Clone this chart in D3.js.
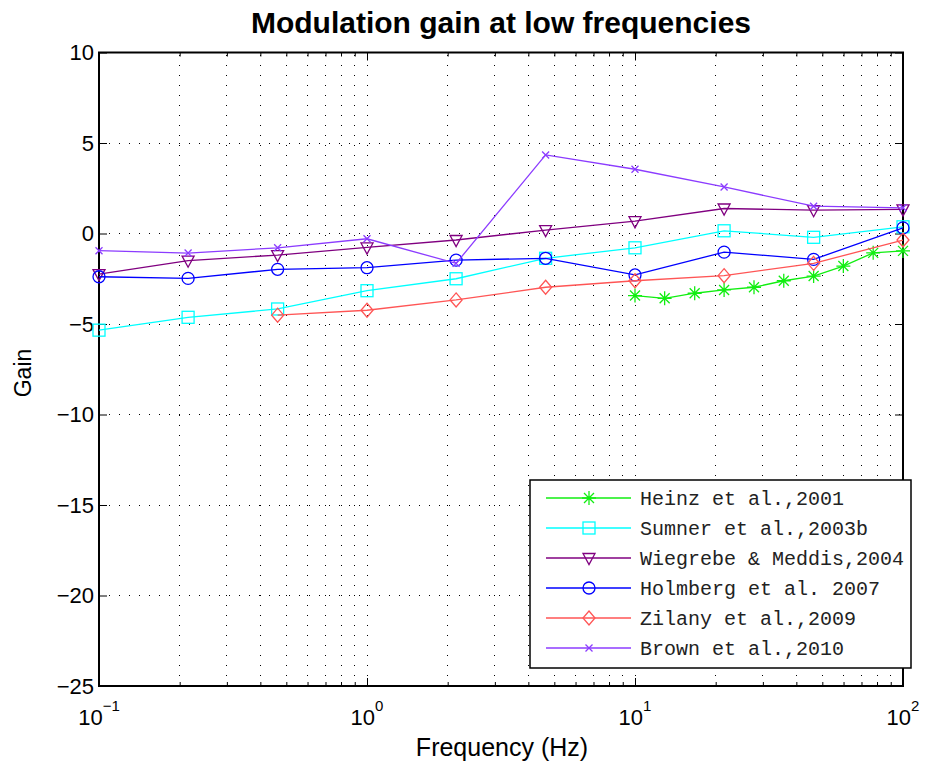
<!DOCTYPE html>
<html>
<head>
<meta charset="utf-8">
<script src="https://cdn.jsdelivr.net/npm/d3@7/dist/d3.min.js"></script>
<style>
  body { margin: 0; background: #fff; }
  svg { display: block; }
</style>
</head>
<body>
<script>
// ---------------- data ----------------
const freqs        = [0.1, 0.215, 0.464, 1, 2.15, 4.64, 10, 21.5, 46.4, 100];
const heinzFreq    = [10, 12.9, 16.7, 21.5, 27.8, 35.9, 46.4, 59.9, 77.4, 100];
const zilanyFreq   = [0.464, 1, 2.15, 4.64, 10, 21.5, 46.4, 100];

const heinzGain    = [-3.43, -3.58, -3.30, -3.12, -2.97, -2.61, -2.35, -1.80, -1.07, -0.96];
const sumnerGain   = [-5.34, -4.63, -4.17, -3.16, -2.50, -1.37, -0.79, 0.15, -0.21, 0.37];
const wiegrebeGain = [-2.24, -1.50, -1.19, -0.77, -0.36, 0.19, 0.68, 1.38, 1.29, 1.33];
const holmbergGain = [-2.39, -2.48, -1.98, -1.89, -1.47, -1.37, -2.29, -1.03, -1.43, 0.31];
const zilanyGain   = [-4.51, -4.24, -3.67, -2.97, -2.61, -2.33, -1.65, -0.36];
const brownGain    = [-0.95, -1.08, -0.79, -0.29, -1.65, 4.34, 3.55, 2.57, 1.51, 1.42];

const seriesNames  = ["Heinz et al.,2001", "Sumner et al.,2003b", "Wiegrebe & Meddis,2004",
                      "Holmberg et al. 2007", "Zilany et al.,2009", "Brown et al.,2010"];
const yTicks       = [-25, -20, -15, -10, -5, 0, 5, 10];
const xMajorTicks  = [0.1, 1, 10, 100];
const xTickExp     = ["\u22121", "0", "1", "2"];

const series = [
  { name: seriesNames[0], x: heinzFreq,  y: heinzGain,    color: "#11ee11", marker: "asterisk" },
  { name: seriesNames[1], x: freqs,      y: sumnerGain,   color: "#00ffff", marker: "square" },
  { name: seriesNames[2], x: freqs,      y: wiegrebeGain, color: "#800080", marker: "tridown" },
  { name: seriesNames[3], x: freqs,      y: holmbergGain, color: "#0000ff", marker: "circle" },
  { name: seriesNames[4], x: zilanyFreq, y: zilanyGain,   color: "#ff5555", marker: "diamond" },
  { name: seriesNames[5], x: freqs,      y: brownGain,    color: "#8c3cff", marker: "cross" }
];

// ---------------- layout ----------------
const W = 927, H = 768;
const L = 99, R = 903, T = 52.5, B = 686;
const SANS = "'Liberation Sans', Arial, sans-serif";
const MONO = "'Liberation Mono', 'Courier New', monospace";

const svg = d3.select("body").append("svg").attr("width", W).attr("height", H)
  .style("font-family", SANS);

const x = d3.scaleLog().domain([0.1, 100]).range([L, R]);
const y = d3.scaleLinear().domain([-25, 10]).range([B, T]);

// minor tick values
const xMinor = [];
[0.1, 1, 10].forEach(d => { for (let k = 2; k <= 9; k++) xMinor.push(d * k); });

// ---------------- grid ----------------
const grid = svg.append("g").attr("stroke", "#000").attr("stroke-width", 1)
  .attr("stroke-dasharray", "1,9").attr("fill", "none");
xMinor.concat(xMajorTicks.slice(1, 3)).forEach(v => {
  grid.append("line").attr("x1", x(v)).attr("x2", x(v)).attr("y1", B).attr("y2", T)
    .attr("shape-rendering", "crispEdges");
});
yTicks.slice(1, -1).forEach(v => {
  grid.append("line").attr("x1", L).attr("x2", R).attr("y1", y(v)).attr("y2", y(v))
    .attr("shape-rendering", "crispEdges");
});

// ---------------- axes (ticks inward) ----------------
function styleAxis(g) {
  g.select(".domain").remove();
  g.selectAll("line").attr("stroke", "#000").attr("stroke-width", 1);
  g.selectAll("text").remove();
}
svg.append("g").attr("transform", `translate(0,${B})`)
  .call(d3.axisBottom(x).tickValues(xMajorTicks).tickSize(-8)).call(styleAxis);
svg.append("g").attr("transform", `translate(0,${B})`)
  .call(d3.axisBottom(x).tickValues(xMinor).tickSize(-4)).call(styleAxis);
svg.append("g").attr("transform", `translate(0,${T})`)
  .call(d3.axisTop(x).tickValues(xMajorTicks).tickSize(-8)).call(styleAxis);
svg.append("g").attr("transform", `translate(0,${T})`)
  .call(d3.axisTop(x).tickValues(xMinor).tickSize(-4)).call(styleAxis);
svg.append("g").attr("transform", `translate(${L},0)`)
  .call(d3.axisLeft(y).tickValues(yTicks).tickSize(-8)).call(styleAxis);
svg.append("g").attr("transform", `translate(${R},0)`)
  .call(d3.axisRight(y).tickValues(yTicks).tickSize(-8)).call(styleAxis);

// frame
svg.append("rect").attr("x", L).attr("y", T).attr("width", R - L).attr("height", B - T)
  .attr("fill", "none").attr("stroke", "#000").attr("stroke-width", 2);

// tick labels
svg.append("g").selectAll("text").data(yTicks).join("text")
  .attr("x", L - 5).attr("y", d => y(d)).attr("dy", "0.36em")
  .attr("text-anchor", "end").attr("font-size", 22)
  .text(d => d < 0 ? "\u2212" + Math.abs(d) : d);

const xl = svg.append("g").selectAll("text").data(xMajorTicks).join("text")
  .attr("x", d => x(d)).attr("y", 725).attr("text-anchor", "middle").attr("font-size", 22);
xl.append("tspan").text("10");
xl.append("tspan").attr("dy", -14).attr("font-size", 15).text((d, i) => xTickExp[i]);

// titles
svg.append("text").attr("x", 501).attr("y", 33).attr("text-anchor", "middle")
  .attr("font-size", 30).attr("font-weight", "bold").text("Modulation gain at low frequencies");
svg.append("text").attr("x", 502).attr("y", 756).attr("text-anchor", "middle")
  .attr("font-size", 25).text("Frequency (Hz)");
svg.append("text").attr("transform", "translate(31,373) rotate(-90)").attr("text-anchor", "middle")
  .attr("font-size", 23).text("Gain");

// ---------------- markers ----------------
function drawMarker(g, type, cx, cy, color) {
  const s = 6;
  const m = g.append("g").attr("transform", `translate(${cx},${cy})`)
    .attr("stroke", color).attr("fill", "none").attr("stroke-width", 1.3);
  if (type === "circle") m.append("circle").attr("r", s);
  else if (type === "square") m.append("rect").attr("x", -s).attr("y", -s).attr("width", 2 * s).attr("height", 2 * s);
  else if (type === "diamond") m.append("path").attr("d", `M0,${-s - 1}L${s},0L0,${s + 1}L${-s},0Z`);
  else if (type === "tridown") m.append("path").attr("d", `M${-s},${-s * 0.75}L${s},${-s * 0.75}L0,${s * 1.1}Z`);
  else if (type === "cross") {
    const c = 3.5;
    m.append("path").attr("d", `M${-c},${-c}L${c},${c}M${-c},${c}L${c},${-c}`);
  } else if (type === "asterisk") {
    const a = 7, b = 5;
    m.append("path").attr("d", `M0,${-a}L0,${a}M${-a},0L${a},0M${-b},${-b}L${b},${b}M${-b},${b}L${b},${-b}`);
  }
}

const line = d3.line().x(d => x(d[0])).y(d => y(d[1]));
const plot = svg.append("g");
series.forEach(s => {
  const pts = s.x.map((v, i) => [v, s.y[i]]);
  plot.append("path").datum(pts).attr("d", line).attr("fill", "none")
    .attr("stroke", s.color).attr("stroke-width", 1.3);
  pts.forEach(p => drawMarker(plot, s.marker, x(p[0]), y(p[1]), s.color));
});

// ---------------- legend ----------------
const lg = svg.append("g");
lg.append("rect").attr("x", 530).attr("y", 480).attr("width", 381).attr("height", 188)
  .attr("fill", "#fff").attr("stroke", "#000").attr("stroke-width", 1.5);
series.forEach((s, i) => {
  const yy = 498 + i * 30;
  lg.append("line").attr("x1", 546).attr("x2", 631).attr("y1", yy).attr("y2", yy)
    .attr("stroke", s.color).attr("stroke-width", 1.3);
  drawMarker(lg, s.marker, 589, yy, s.color);
  lg.append("text").attr("x", 640).attr("y", yy).attr("dy", "0.35em")
    .style("font-family", MONO).attr("font-size", 20)
    .attr("fill", "#222").text(s.name);
});
</script>
</body>
</html>
